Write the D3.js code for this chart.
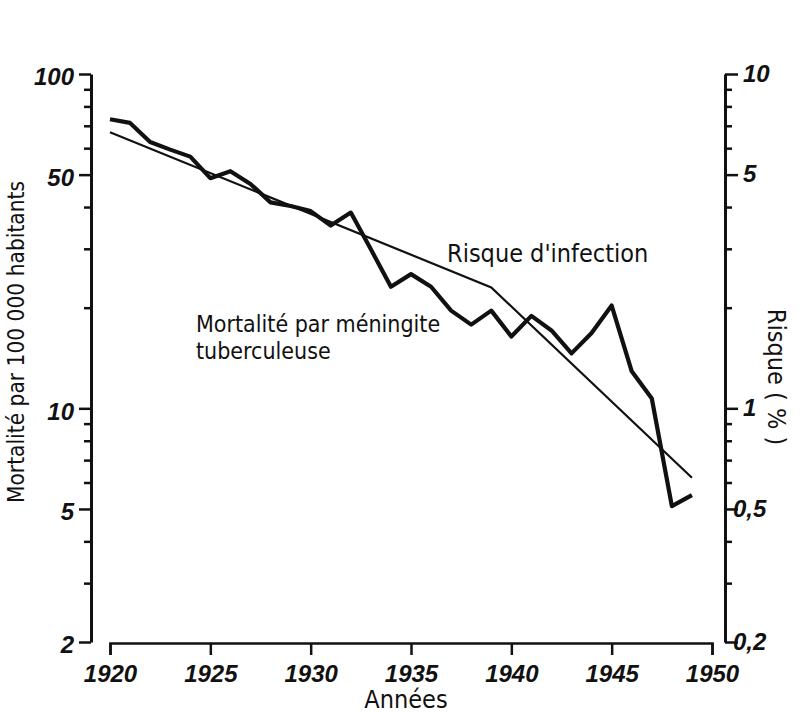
<!DOCTYPE html>
<html>
<head>
<meta charset="utf-8">
<script src="https://cdn.jsdelivr.net/npm/d3@7"></script>
<style>
  body { margin: 0; background: #fff; }
  svg { display: block; }
  .tick text { font-family: "Liberation Sans", Arial, sans-serif; font-style: italic; font-weight: bold; font-size: 24px; fill: #111; }
  .lbl { font-family: "DejaVu Sans Condensed", "DejaVu Sans", sans-serif; font-stretch: condensed; fill: #111; }
</style>
</head>
<body>
<div id="wrapper"></div>
<script>
// mortalité par méningite tuberculeuse (pour 100 000 hab.), axe gauche
const years = [1920, 1921, 1922, 1923, 1924, 1925, 1926, 1927, 1928, 1929,
               1930, 1931, 1932, 1933, 1934, 1935, 1936, 1937, 1938, 1939,
               1940, 1941, 1942, 1943, 1944, 1945, 1946, 1947, 1948, 1949];
const mortality = [73.2, 71.4, 62.6, 59.4, 56.6, 48.8, 51.2, 46.9, 41.3, 40.3,
                   38.9, 35.2, 38.5, 29.9, 23.1, 25.2, 23.1, 19.6, 17.8, 19.6,
                   16.4, 18.9, 17.1, 14.6, 16.8, 20.3, 12.9, 10.7, 5.1, 5.5];
// risque d'infection (%), axe droit
const riskYears = [1920, 1939, 1949];
const risk = [6.7, 2.3, 0.62];

const yearTicks = [1920, 1925, 1930, 1935, 1940, 1945, 1950];
const leftTicks = [100, 50, 10, 5, 2];
const rightTicks = [10, 5, 1, 0.5, 0.2];

const W = 800, H = 717;
const svg = d3.select("#wrapper").append("svg").attr("width", W).attr("height", H);

const x = d3.scaleLinear().domain([1920, 1950]).range([110, 712]);
const yL = d3.scaleLog().domain([2, 100]).range([642, 74]);
const yR = d3.scaleLog().domain([0.2, 10]).range([642, 74]);

const fmt = d => String(d).replace(".", ",");

// axe gauche
const gL = svg.append("g").attr("transform", "translate(91,0)")
  .call(d3.axisLeft(yL).tickValues(yL.ticks()).tickSizeOuter(0).tickFormat(d => leftTicks.includes(d) ? d : ""));
gL.select(".domain").attr("stroke", "#111").attr("stroke-width", 3);
gL.selectAll(".tick line").attr("stroke", "#111").attr("stroke-width", 2.5)
  .attr("x2", d => leftTicks.includes(d) ? -12 : -7);
gL.selectAll(".tick text").attr("x", -17).attr("dy", "0.45em");

// axe droit
const gR = svg.append("g").attr("transform", "translate(725,0)")
  .call(d3.axisRight(yR).tickValues(yR.ticks()).tickSizeOuter(0).tickFormat(d => rightTicks.includes(d) ? fmt(d) : ""));
gR.select(".domain").attr("stroke", "#111").attr("stroke-width", 3);
gR.selectAll(".tick line").attr("stroke", "#111").attr("stroke-width", 2.5)
  .attr("x2", d => rightTicks.includes(d) ? 13 : 7);
gR.selectAll(".tick text").attr("x", d => (d < 1 ? 8 : 18)).attr("dy", "0.3em");

// axe des années
const gX = svg.append("g").attr("transform", "translate(0,643)")
  .call(d3.axisBottom(x).tickValues(yearTicks).tickSizeOuter(0).tickSize(12).tickFormat(d => d));
gX.select(".domain").attr("stroke", "#111").attr("stroke-width", 2.5);
gX.selectAll(".tick line").attr("stroke", "#111").attr("stroke-width", 2.5);
gX.selectAll(".tick text").attr("y", 22).attr("dy", "0.71em");

// courbes
const lineM = d3.line().x((d, i) => x(years[i])).y(d => yL(d));
svg.append("path").datum(mortality)
  .attr("d", lineM).attr("fill", "none").attr("stroke", "#111")
  .attr("stroke-width", 4.2).attr("stroke-linejoin", "round");

const lineR = d3.line().x((d, i) => x(riskYears[i])).y(d => yR(d));
svg.append("path").datum(risk)
  .attr("d", lineR).attr("fill", "none").attr("stroke", "#111")
  .attr("stroke-width", 2.2);

// textes
svg.append("text").attr("class", "lbl").attr("text-anchor", "middle")
  .style("font-size", "22.5px")
  .attr("transform", "translate(24,342) rotate(-90)")
  .text("Mortalité par 100 000 habitants");
svg.append("text").attr("class", "lbl").attr("text-anchor", "middle")
  .style("font-size", "25px")
  .attr("transform", "translate(768,377) rotate(90)")
  .text("Risque ( % )");
svg.append("text").attr("class", "lbl").attr("text-anchor", "middle")
  .style("font-size", "25px")
  .attr("x", 406).attr("y", 708).text("Années");
svg.append("text").attr("class", "lbl").style("font-size", "25px")
  .attr("x", 447).attr("y", 262).text("Risque d'infection");
svg.append("text").attr("class", "lbl").style("font-size", "23px")
  .attr("x", 196).attr("y", 332).text("Mortalité par méningite");
svg.append("text").attr("class", "lbl").style("font-size", "23px")
  .attr("x", 196).attr("y", 359).text("tuberculeuse");
</script>
</body>
</html>
